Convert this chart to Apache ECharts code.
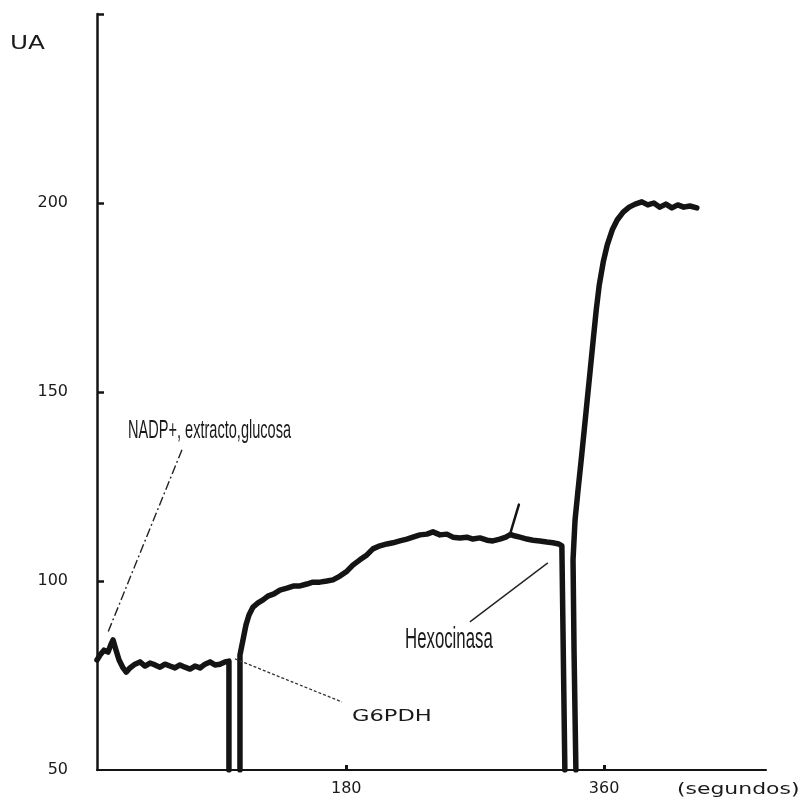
<!DOCTYPE html>
<html>
<head>
<meta charset="utf-8">
<title>UA vs segundos</title>
<script src="https://cdn.jsdelivr.net/npm/echarts@6/dist/echarts.min.js"></script>
<style>
  html, body { margin: 0; padding: 0; background: #fff; }
  #chart { width: 803px; height: 800px; }
</style>
</head>
<body>
<div id="chart"></div>
<script>
// axis ticks / labels
const xTicks = [180, 360];
const yTicks = [100, 150, 200, 250];
const yLabels = [50, 100, 150, 200];

// trace (time in s, UA)
// NADP+, extracto, glucosa -> baseline, then cuvette out / G6PDH added
const phase1Time = [6, 8.1, 10.9, 13.7, 15.8, 17.2, 19.3, 21.4, 24.2, 26.4, 29, 32.5, 36, 39.5, 43, 46.5, 50, 53.5, 56.9, 60.4, 63.9, 67.4, 70.9, 74.4, 77.9, 81.4, 84.9, 88.3, 91.8, 95.3, 98.1, 98.1];
const phase1UA = [79.1, 80.4, 81.7, 81.2, 83.3, 84.4, 81.7, 79.1, 77, 75.9, 77, 78, 78.6, 77.5, 78.3, 77.8, 77.2, 78, 77.5, 77, 77.8, 77.2, 76.7, 77.5, 77, 78, 78.6, 77.8, 78, 78.6, 78.8, 50];

// after G6PDH, until Hexocinasa
const phase2Time = [105.8, 105.8, 107.9, 110, 112.1, 114.9, 118.4, 121.9, 125.3, 129.5, 133.7, 138.6, 143.5, 147.7, 152.5, 156.7, 161.6, 166.5, 170.7, 175.6, 180.5, 184.6, 189.5, 194.4, 198.6, 203.5, 208.4, 212.6, 217.4, 222.3, 226.5, 231.4, 236.3, 240.5, 245.4, 250.2, 254.4, 259.3, 264.2, 268.4, 273.3, 278.2, 282.3, 287.2, 291.4, 294.5, 298, 301.2, 306.1, 310.3, 315.1, 320, 324.2, 328.4, 330.5, 332.6];
const phase2UA = [50, 80.4, 84.4, 88.4, 91, 93.1, 94.2, 95, 96, 96.6, 97.6, 98.1, 98.7, 98.7, 99.2, 99.7, 99.7, 100, 100.3, 101.3, 102.6, 104.2, 105.6, 106.9, 108.5, 109.3, 109.8, 110.1, 110.6, 111.1, 111.6, 112.2, 112.4, 113, 112.2, 112.4, 111.6, 111.4, 111.6, 111.1, 111.4, 110.8, 110.6, 111.1, 111.6, 112.3, 111.9, 111.6, 111.1, 110.8, 110.6, 110.3, 110.1, 109.8, 109.3, 50];

// small pen spike near 295 s
const spikeTime = [294.5, 300.5];
const spikeUA = [112.6, 120.2];

// after Hexocinasa
const phase3Time = [340.3, 339, 338.3, 339.7, 341.8, 344, 346.1, 348.2, 350.3, 352.4, 354.5, 356.6, 359.4, 362.2, 365.7, 369.1, 373.3, 377.5, 381.7, 386.3, 390.5, 394.7, 398.9, 403.1, 407.3, 411.4, 415.6, 419.8, 424.7];
const phase3UA = [50, 81.7, 105.6, 116.1, 124.1, 132, 139.9, 147.9, 155.8, 163.8, 171.7, 178.3, 184.4, 188.9, 192.9, 195.5, 197.6, 198.9, 199.7, 200.3, 199.5, 200, 198.9, 199.7, 198.7, 199.5, 198.9, 199.2, 198.7];

// leader lines of the annotations, in data units [time, UA]
const leaderNadp = [[65.3, 134.7], [13.7, 86.5]];
const leaderG6pdh = [[102.3, 79.4], [177, 68]];
const leaderHexo = [[320.7, 104.8], [266.3, 89.2]];

const zip = (t, v) => t.map((x, i) => [x, v[i]]);

const chart = echarts.init(document.getElementById('chart'));

const ink = '#141414';
const wideFont = '"DejaVu Sans", Verdana, sans-serif';

const traceSeries = (data, width) => ({
  type: 'line',
  data: data,
  showSymbol: false,
  silent: true,
  lineStyle: { color: ink, width: width, join: 'round', cap: 'round' },
});

const option = {
  animation: false,
  backgroundColor: '#fff',
  grid: { left: 97, right: 37, top: 14, bottom: 30 },
  xAxis: {
    type: 'value',
    min: 6,
    max: 473,
    axisLine: { onZero: false, lineStyle: { color: ink, width: 2.2 } },
    axisTick: { inside: true, length: 5, customValues: xTicks, lineStyle: { color: ink, width: 3 } },
    axisLabel: { customValues: xTicks, margin: 11, fontSize: 16, fontFamily: wideFont, color: '#1a1a1a' },
    splitLine: { show: false },
  },
  yAxis: {
    type: 'value',
    min: 50,
    max: 250,
    interval: 50,
    axisLine: { show: true, onZero: false, lineStyle: { color: ink, width: 2.5 } },
    axisTick: { show: true, inside: true, length: 7, customValues: yTicks, lineStyle: { color: ink, width: 2.5 } },
    axisLabel: { customValues: yLabels, margin: 29, fontSize: 16, fontFamily: wideFont, color: '#1a1a1a' },
    splitLine: { show: false },
  },
  series: [
    traceSeries(zip(phase1Time, phase1UA), 5.5),
    Object.assign(traceSeries(zip(phase2Time, phase2UA), 5.5), {
      markLine: {
        silent: true,
        symbol: ['none', 'none'],
        label: { show: false },
        data: [
          [{ coord: leaderNadp[0], lineStyle: { type: [9, 3, 2, 3], width: 1.4, color: '#222' } }, { coord: leaderNadp[1] }],
          [{ coord: leaderG6pdh[0], lineStyle: { type: [3, 2], width: 1.3, color: '#333' } }, { coord: leaderG6pdh[1] }],
          [{ coord: leaderHexo[0], lineStyle: { type: 'solid', width: 1.4, color: '#222' } }, { coord: leaderHexo[1] }],
        ],
      },
    }),
    traceSeries(zip(spikeTime, spikeUA), 2.5),
    traceSeries(zip(phase3Time, phase3UA), 5.5),
  ],
  graphic: [
    { type: 'text', x: 10, y: 44, scaleX: 1.3, style: { text: 'UA', font: '19px ' + wideFont, fill: '#1a1a1a', textVerticalAlign: 'middle' } },
    { type: 'text', x: 677, y: 790, scaleX: 1.37, style: { text: '(segundos)', font: '16px ' + wideFont, fill: '#1a1a1a', textVerticalAlign: 'middle' } },
    { type: 'text', x: 352, y: 717, scaleX: 1.41, style: { text: 'G6PDH', font: '16px ' + wideFont, fill: '#1a1a1a', textVerticalAlign: 'middle' } },
    { type: 'text', x: 128, y: 431, scaleX: 0.56, style: { text: 'NADP+, extracto,glucosa', font: '26px "Liberation Sans", Arial, sans-serif', fill: '#1a1a1a', textVerticalAlign: 'middle' } },
    { type: 'text', x: 405, y: 640, scaleX: 0.56, style: { text: 'Hexocinasa', font: '30px "Liberation Sans", Arial, sans-serif', fill: '#1a1a1a', textVerticalAlign: 'middle' } },
  ],
};

chart.setOption(option);
</script>
</body>
</html>
